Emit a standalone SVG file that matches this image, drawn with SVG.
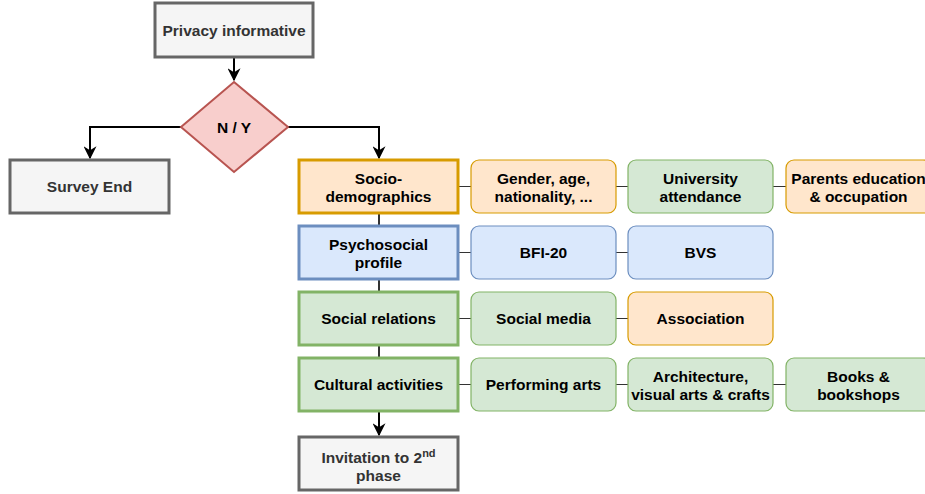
<svg xmlns="http://www.w3.org/2000/svg" width="925" height="494" viewBox="0 0 925 494">
<defs>
<marker id="arr" viewBox="0 0 10 10" refX="9" refY="5" markerWidth="6.5" markerHeight="6.5" orient="auto" markerUnits="strokeWidth">
<path d="M0,0 L10,5 L0,10 L3,5 Z" fill="#000"/>
</marker>
</defs>
<style>
text{font-family:"Liberation Sans",Arial,sans-serif;font-size:15.5px;font-weight:bold;text-anchor:middle;fill:#000}
.g rect{fill:#f5f5f5;stroke:#666;stroke-width:3}
.g text{fill:#333}
.or rect{fill:#ffe6cc;stroke:#d79b00}
.bl rect{fill:#dae8fc;stroke:#6c8ebf}
.gr rect{fill:#d5e8d4;stroke:#82b366}
.main rect{stroke-width:3}
.sub rect{stroke-width:1.2}
.flow{fill:none;stroke:#000;stroke-width:2}
.link{fill:none;stroke:#333;stroke-width:1.2}
.spine{fill:none;stroke:#333;stroke-width:2}
</style>
<rect width="925" height="494" fill="#fff"/>
<g id="connectors">
<path class="flow" d="M234,57 V80" marker-end="url(#arr)"/>
<path class="flow" d="M181,127 H90 V158" marker-end="url(#arr)"/>
<path class="flow" d="M288,127 H379 V158" marker-end="url(#arr)"/>
<path class="spine" d="M379,213 V226 M379,279 V292 M379,345 V358"/>
<path class="flow" d="M379,411 V435" marker-end="url(#arr)"/>
<path class="link" d="M458,186.5 H471 M616,186.5 H628 M773,186.5 H786"/>
<path class="link" d="M458,252.5 H471 M616,252.5 H628"/>
<path class="link" d="M458,318.5 H471 M616,318.5 H628"/>
<path class="link" d="M458,384.5 H471 M616,384.5 H628 M773,384.5 H786"/>
</g>
<g id="privacy" class="g main"><rect x="155" y="3" width="158" height="54"/><text x="234" y="35.5">Privacy informative</text></g>
<g id="decision"><path d="M234,82 L288,127 L234,172 L181,127 Z" fill="#f8cecc" stroke="#b85450" stroke-width="2"/><text x="234" y="132.5">N / Y</text></g>
<g id="survey-end" class="g main"><rect x="10" y="160" width="159" height="53"/><text x="89.5" y="192">Survey End</text></g>
<g id="socio" class="or main"><rect x="299" y="160" width="159" height="53"/><text x="378.5" y="184">Socio-</text><text x="378.5" y="202">demographics</text></g>
<g id="psycho" class="bl main"><rect x="299" y="226" width="159" height="53"/><text x="378.5" y="250">Psychosocial</text><text x="378.5" y="268">profile</text></g>
<g id="social" class="gr main"><rect x="299" y="292" width="159" height="53"/><text x="378.5" y="324">Social relations</text></g>
<g id="cultural" class="gr main"><rect x="299" y="358" width="159" height="53"/><text x="378.5" y="390">Cultural activities</text></g>
<g id="invitation" class="g main"><rect x="299" y="437" width="159" height="53"/><text x="378.5" y="463">Invitation to 2<tspan font-size="11" dy="-6">nd</tspan></text><text x="378.5" y="481">phase</text></g>
<g id="gender" class="or sub"><rect x="471" y="160" width="145" height="53" rx="8"/><text x="543.5" y="184">Gender, age,</text><text x="543.5" y="202">nationality, ...</text></g>
<g id="university" class="gr sub"><rect x="628" y="160" width="145" height="53" rx="8"/><text x="700.5" y="184">University</text><text x="700.5" y="202">attendance</text></g>
<g id="parents" class="or sub"><rect x="786" y="160" width="145" height="53" rx="8"/><text x="858.5" y="184">Parents education</text><text x="858.5" y="202">&amp; occupation</text></g>
<g id="bfi" class="bl sub"><rect x="471" y="226" width="145" height="53" rx="8"/><text x="543.5" y="258">BFI-20</text></g>
<g id="bvs" class="bl sub"><rect x="628" y="226" width="145" height="53" rx="8"/><text x="700.5" y="258">BVS</text></g>
<g id="socialmedia" class="gr sub"><rect x="471" y="292" width="145" height="53" rx="8"/><text x="543.5" y="324">Social media</text></g>
<g id="association" class="or sub"><rect x="628" y="292" width="145" height="53" rx="8"/><text x="700.5" y="324">Association</text></g>
<g id="performing" class="gr sub"><rect x="471" y="358" width="145" height="53" rx="8"/><text x="543.5" y="390">Performing arts</text></g>
<g id="architecture" class="gr sub"><rect x="628" y="358" width="145" height="53" rx="8"/><text x="700.5" y="382">Architecture,</text><text x="700.5" y="400">visual arts &amp; crafts</text></g>
<g id="books" class="gr sub"><rect x="786" y="358" width="145" height="53" rx="8"/><text x="858.5" y="382">Books &amp;</text><text x="858.5" y="400">bookshops</text></g>
</svg>
